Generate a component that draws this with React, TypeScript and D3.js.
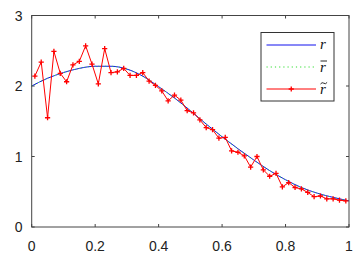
import React from 'react'
import * as d3 from 'd3'

// smooth curve r, sampled every 0.05
const rX = [0, 0.05, 0.1, 0.15, 0.2, 0.25, 0.3, 0.35, 0.4, 0.45, 0.5, 0.55, 0.6, 0.65, 0.7, 0.75, 0.8, 0.85, 0.9, 0.95, 1]
const rVals = [2.0, 2.11, 2.19, 2.25, 2.28, 2.28, 2.24, 2.14, 1.99, 1.83, 1.65, 1.46, 1.28, 1.11, 0.95, 0.8, 0.67, 0.56, 0.48, 0.42, 0.37]
// r bar (almost on top of r)
const rBarVals = [2.0, 2.11, 2.19, 2.25, 2.28, 2.28, 2.24, 2.14, 1.99, 1.83, 1.65, 1.46, 1.28, 1.11, 0.95, 0.8, 0.67, 0.56, 0.48, 0.42, 0.37]

// noisy r tilde, x = 0.01, 0.03, ..., 0.99
const rTildeX = d3.range(50).map(i => +(0.01 + 0.02 * i).toFixed(2))
const rTildeVals = [
  2.14, 2.34, 1.55, 2.49, 2.18, 2.06, 2.3, 2.35, 2.57, 2.31,
  2.03, 2.53, 2.19, 2.2, 2.25, 2.15, 2.15, 2.19, 2.07, 2.01,
  1.93, 1.79, 1.87, 1.8, 1.65, 1.62, 1.52, 1.41, 1.38, 1.26,
  1.27, 1.08, 1.06, 1.01, 0.85, 1.0, 0.81, 0.72, 0.76, 0.57,
  0.63, 0.56, 0.54, 0.49, 0.43, 0.44, 0.4, 0.4, 0.38, 0.37
]

const xTicks = [0, 0.2, 0.4, 0.6, 0.8, 1]
const yTicks = [0, 1, 2, 3]

const width = 357,
      height = 257,
      left = 31.7,
      right = 349,
      top = 15.5,
      bottom = 227

const axisColor = '#444'
const tickFont = '"Liberation Sans", Arial, Helvetica, sans-serif'

export default function App () {
  const xScale = d3.scaleLinear().domain([0, 1]).range([left, right])
  const yScale = d3.scaleLinear().domain([0, 3]).range([bottom, top])

  const line = d3.line<[number, number]>()
    .x(d => xScale(d[0]))
    .y(d => yScale(d[1]))
  const smooth = d3.line<[number, number]>()
    .x(d => xScale(d[0]))
    .y(d => yScale(d[1]))
    .curve(d3.curveMonotoneX)

  const rData = rX.map((x, i) => [x, rVals[i]] as [number, number])
  const rBarData = rX.map((x, i) => [x, rBarVals[i]] as [number, number])
  const rTildeData = rTildeX.map((x, i) => [x, rTildeVals[i]] as [number, number])

  const plus = (cx: number, cy: number, key: any) => (
    <path key={key} d={`M${cx - 2.6},${cy}H${cx + 2.6}M${cx},${cy - 2.6}V${cy + 2.6}`}
      stroke='#ff0000' strokeWidth={1.3} fill='none' />
  )

  // legend
  const lgX = 261, lgY = 32.5, lgW = 73, lgH = 68.5
  const rowY = [45, 67, 89]
  const lx1 = 266.5, lx2 = 316, tx = 320

  return (
    <svg width={width} height={height} style={{ position: 'fixed', left: 0, top: 0, background: '#fff' }}>
      <rect x={0} y={0} width={width} height={height} fill='#fff' />

      {/* ticks, inward on all four sides */}
      {xTicks.map((d, i) => (
        <g key={'xt' + i}>
          <line x1={xScale(d)} x2={xScale(d)} y1={bottom} y2={bottom - 3} stroke={axisColor} />
          <line x1={xScale(d)} x2={xScale(d)} y1={top} y2={top + 3} stroke={axisColor} />
          <text x={xScale(d)} y={251} textAnchor='middle' fontFamily={tickFont} fontSize={14} fill='#222'>{d}</text>
        </g>
      ))}
      {yTicks.map((d, i) => (
        <g key={'yt' + i}>
          <line x1={left} x2={left + 3} y1={yScale(d)} y2={yScale(d)} stroke={axisColor} />
          <line x1={right} x2={right - 3} y1={yScale(d)} y2={yScale(d)} stroke={axisColor} />
          <text x={22.5} y={yScale(d) + 5} textAnchor='end' fontFamily={tickFont} fontSize={14} fill='#222'>{d}</text>
        </g>
      ))}

      <path d={smooth(rData) || ''} stroke='#1010ee' strokeWidth={1} fill='none' />
      <path d={smooth(rBarData) || ''} stroke='#33dd33' strokeWidth={1} strokeDasharray='1,2.5' fill='none' />
      <path d={line(rTildeData) || ''} stroke='#ff0000' strokeWidth={1} fill='none' />
      {rTildeData.map((d, i) => plus(xScale(d[0]), yScale(d[1]), i))}

      <rect x={left} y={top} width={right - left} height={bottom - top} fill='none' stroke={axisColor} strokeWidth={1} />

      {/* legend */}
      <rect x={lgX} y={lgY} width={lgW} height={lgH} fill='#fff' stroke='#333' strokeWidth={1} />
      <line x1={lx1} x2={lx2} y1={rowY[0]} y2={rowY[0]} stroke='#1010ee' strokeWidth={1} />
      <line x1={lx1} x2={lx2} y1={rowY[1]} y2={rowY[1]} stroke='#33dd33' strokeWidth={1.2} strokeDasharray='1.2,3' />
      <line x1={lx1} x2={lx2} y1={rowY[2]} y2={rowY[2]} stroke='#ff0000' strokeWidth={1} />
      {plus((lx1 + lx2) / 2, rowY[2], 'lg')}

      <text x={tx} y={rowY[0] + 4} fontFamily='"Liberation Serif", "DejaVu Serif", serif' fontStyle='italic' fontSize={15} fill='#111'>r</text>
      <text x={tx} y={rowY[1] + 5} fontFamily='"Liberation Serif", "DejaVu Serif", serif' fontStyle='italic' fontSize={15} fill='#111'>r</text>
      <line x1={tx + 0.5} x2={tx + 7} y1={rowY[1] - 6} y2={rowY[1] - 6} stroke='#111' strokeWidth={0.9} />
      <text x={tx} y={rowY[2] + 5} fontFamily='"Liberation Serif", "DejaVu Serif", serif' fontStyle='italic' fontSize={15} fill='#111'>r</text>
      <path d={`M${tx + 0.5},${rowY[2] - 5} q1.6,-2.2 3.3,-0.8 t3.3,-0.8`} stroke='#111' strokeWidth={0.9} fill='none' />
    </svg>
  )
}
